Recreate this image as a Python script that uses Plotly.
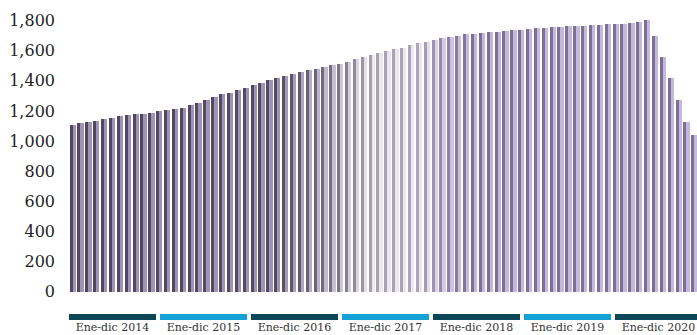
import plotly.graph_objects as go
import pandas as pd

# Monthly series, January 2014 onwards
months = pd.date_range("2014-01-01", periods=80, freq="MS").strftime("%Y-%m").tolist()
values = [
    1106, 1117, 1124, 1133, 1144, 1155, 1165, 1172, 1177, 1180, 1188, 1198,
    1205, 1212, 1222, 1238, 1255, 1270, 1290, 1312, 1322, 1338, 1353, 1374,
    1386, 1405, 1420, 1433, 1445, 1458, 1469, 1481, 1491, 1503, 1514, 1527,
    1548, 1556, 1571, 1586, 1600, 1609, 1620, 1637, 1652, 1660, 1671, 1682,
    1690, 1698, 1708, 1713, 1717, 1721, 1725, 1729, 1736, 1740, 1744, 1748,
    1752, 1755, 1758, 1761, 1764, 1767, 1770, 1773, 1775, 1777, 1780, 1783,
    1788, 1806, 1700, 1560, 1416, 1272, 1128, 1040,
]

# Year bands shown under the bars
year_labels = ["Ene-dic 2014", "Ene-dic 2015", "Ene-dic 2016", "Ene-dic 2017",
               "Ene-dic 2018", "Ene-dic 2019", "Ene-dic 2020"]
band_colors = ["#0c4657", "#13a1d6"]

y_ticks = [0, 200, 400, 600, 800, 1000, 1200, 1400, 1600, 1800]

FONT = "DejaVu Serif"

# Shading of each bar: (index, dark edge rgb, light face rgb)
tint_stops = [
    (0, (80, 70, 94), (160, 148, 182)),
    (26, (84, 76, 100), (158, 148, 180)),
    (34, (122, 116, 136), (204, 198, 214)),
    (38, (166, 161, 176), (236, 231, 241)),
    (44, (172, 167, 184), (236, 229, 243)),
    (48, (140, 129, 160), (206, 192, 226)),
    (51, (124, 112, 148), (198, 183, 221)),
    (83, (124, 112, 148), (198, 183, 221)),
]


def tint(i, which):
    for (a, da, la), (b, db, lb) in zip(tint_stops, tint_stops[1:]):
        if a <= i <= b:
            t = (i - a) / (b - a) if b > a else 0
            c0, c1 = (da, db) if which == 0 else (la, lb)
            r, g, bl = (round(c0[k] + (c1[k] - c0[k]) * t) for k in range(3))
            return f"rgb({r},{g},{bl})"
    return "rgb(124,112,148)"


idx = list(range(len(values)))
light_cols = [tint(i, 1) for i in idx]
dark_cols = [tint(i, 0) for i in idx]

fig = go.Figure()
# light face of each bar
fig.add_trace(go.Bar(
    x=idx, y=values, width=0.8, offset=-0.4,
    marker=dict(color=light_cols, line=dict(width=0)),
    hovertext=months, showlegend=False,
))
# dark left edge of each bar
fig.add_trace(go.Bar(
    x=idx, y=values, width=0.38, offset=-0.4,
    marker=dict(color=dark_cols, line=dict(width=0)),
    hovertext=months, showlegend=False,
))

# year axis carrying the band labels
band_pitch = 1.0
band_width = 0.956
centers = [k * band_pitch + band_width / 2 for k in range(len(year_labels))]
fig.add_trace(go.Scatter(
    x=centers, y=[0] * len(centers), xaxis="x2", mode="markers",
    marker=dict(opacity=0), hoverinfo="skip", showlegend=False,
))

plot_h = 335 - 10 - 30
shapes = []
for k in range(len(year_labels)):
    shapes.append(dict(
        type="rect", xref="x2", yref="paper",
        x0=k * band_pitch, x1=k * band_pitch + band_width,
        y0=-(320 - 305) / plot_h, y1=-(314 - 305) / plot_h,
        fillcolor=band_colors[k % 2], line=dict(width=0), layer="above",
    ))

fig.update_layout(
    width=697, height=335,
    margin=dict(l=69, r=0, t=10, b=30),
    paper_bgcolor="white", plot_bgcolor="white",
    barmode="overlay", bargap=0,
    font=dict(family=FONT, color="#222222"),
    xaxis=dict(range=[-0.47, 79.33], visible=False, fixedrange=True,
               automargin=False),
    xaxis2=dict(
        overlaying="x", anchor="y", side="bottom", automargin=False,
        range=[0, 628 / 91], showgrid=False, zeroline=False, showline=False,
        ticks="", tickvals=centers, ticktext=year_labels,
        tickfont=dict(family=FONT, size=11, color="#333333"),
        ticklabelstandoff=14,
    ),
    yaxis=dict(
        range=[-88, 1870], tickvals=y_ticks, tickformat=",d", automargin=False,
        showgrid=False, zeroline=False, showline=False, ticks="",
        tickfont=dict(family=FONT, size=16, color="#1e1e1e"),
        ticklabelstandoff=13,
    ),
    shapes=shapes,
)

fig.write_html("out.html")
